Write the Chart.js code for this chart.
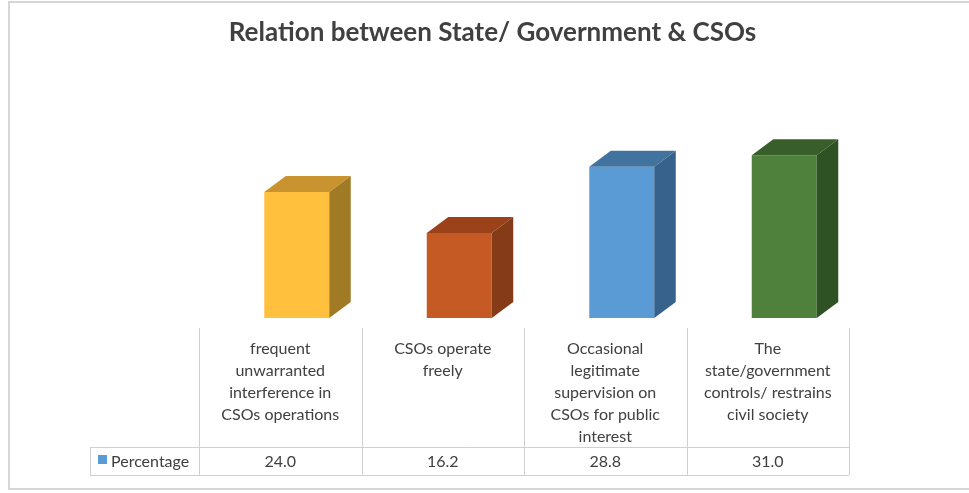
<!DOCTYPE html>
<html>
<head>
<meta charset="utf-8">
<title>Relation between State/ Government &amp; CSOs</title>
<script src="https://cdn.jsdelivr.net/npm/chart.js@4/dist/chart.umd.min.js"></script>
<style>
  html, body { margin: 0; padding: 0; background: #fff; }
  #wrap { width: 969px; height: 493px; position: relative; }
</style>
</head>
<body>
<div id="wrap"><canvas id="chart"></canvas></div>
<script>
  // --- Data ---
  const chartTitle = 'Relation between State/ Government & CSOs';
  const seriesName = 'Percentage';
  const categories = [
    ['frequent', 'unwarranted', 'interference in', 'CSOs operations'],
    ['CSOs operate', 'freely'],
    ['Occasional', 'legitimate', 'supervision on', 'CSOs for public', 'interest'],
    ['The', 'state/government', 'controls/ restrains', 'civil society'],
  ];
  const percentage = [24.0, 16.2, 28.8, 31.0];

  // front / top / side shades for each bar
  const frontColors = ['#FFC03D', '#C65A24', '#5B9BD5', '#4F813D'];
  const topColors = ['#C9942F', '#9C421B', '#42739F', '#385F2A'];
  const sideColors = ['#A17A25', '#853A18', '#36628B', '#2F5224'];

  const FONT = 'Lato, "Open Sans", sans-serif';
  const TEXT_COLOR = '#404040';
  const GRID_COLOR = '#d0d0d0';
  const DEPTH_X = 21.5;
  const DEPTH_Y = 16;
  const TABLE_SHIFT = 16.5; // floor projection offset of the table vs. the bar fronts

  // --- 3D faces: top and right side of every bar ---
  const bar3d = {
    id: 'bar3d',
    afterDatasetsDraw(chart) {
      const ctx = chart.ctx;
      const meta = chart.getDatasetMeta(0);
      meta.data.forEach((bar, i) => {
        const { x, y, base, width } = bar.getProps(['x', 'y', 'base', 'width'], true);
        const l = x - width / 2;
        const r = x + width / 2;
        ctx.save();
        ctx.fillStyle = topColors[i];
        ctx.beginPath();
        ctx.moveTo(l, y);
        ctx.lineTo(r, y);
        ctx.lineTo(r + DEPTH_X, y - DEPTH_Y);
        ctx.lineTo(l + DEPTH_X, y - DEPTH_Y);
        ctx.closePath();
        ctx.fill();
        ctx.fillStyle = sideColors[i];
        ctx.beginPath();
        ctx.moveTo(r, y);
        ctx.lineTo(r + DEPTH_X, y - DEPTH_Y);
        ctx.lineTo(r + DEPTH_X, base - DEPTH_Y);
        ctx.lineTo(r, base);
        ctx.closePath();
        ctx.fill();
        ctx.restore();
      });
    },
  };

  // --- Title, frame and data table ---
  const tableAndFrame = {
    id: 'tableAndFrame',
    afterDraw(chart) {
      const ctx = chart.ctx;
      const xs = chart.scales.x;
      const step = xs.getPixelForValue(1) - xs.getPixelForValue(0);
      const colLeft = (i) => xs.getPixelForValue(i) - step / 2 - TABLE_SHIFT;
      const n = categories.length;

      const headTop = 328, rowTop = 447, rowBottom = 475, legendLeft = 90;
      const tableRight = colLeft(n - 1) + step;

      ctx.save();

      // outer frame
      ctx.strokeStyle = '#d6d6d6';
      ctx.lineWidth = 2;
      ctx.strokeRect(9, 2, 975, 487);

      // title
      ctx.fillStyle = TEXT_COLOR;
      ctx.font = 'bold 26px ' + FONT;
      ctx.textAlign = 'center';
      ctx.textBaseline = 'middle';
      ctx.fillText(chartTitle, 492.5, 32.5);

      // grid
      ctx.strokeStyle = GRID_COLOR;
      ctx.lineWidth = 1;
      ctx.beginPath();
      for (let i = 0; i <= n; i++) {
        const gx = Math.round(i < n ? colLeft(i) : tableRight) + 0.5;
        ctx.moveTo(gx, headTop);
        ctx.lineTo(gx, rowBottom);
      }
      ctx.moveTo(legendLeft + 0.5, rowTop);
      ctx.lineTo(legendLeft + 0.5, rowBottom);
      ctx.moveTo(legendLeft, rowTop + 0.5);
      ctx.lineTo(tableRight, rowTop + 0.5);
      ctx.moveTo(legendLeft, rowBottom + 0.5);
      ctx.lineTo(tableRight, rowBottom + 0.5);
      ctx.stroke();

      // category labels
      ctx.fillStyle = TEXT_COLOR;
      ctx.font = '16px ' + FONT;
      categories.forEach((lines, i) => {
        const cx = colLeft(i) + step / 2;
        lines.forEach((line, k) => ctx.fillText(line, cx, 349 + k * 22));
      });

      // value row
      const rowMid = (rowTop + rowBottom) / 2 + 1;
      percentage.forEach((v, i) => {
        ctx.fillText(v.toFixed(1), colLeft(i) + step / 2, rowMid);
      });

      // legend key + series name
      ctx.fillStyle = frontColors[2];
      ctx.fillRect(98, 455, 9, 9);
      ctx.fillStyle = TEXT_COLOR;
      ctx.textAlign = 'left';
      ctx.fillText(seriesName, 111, rowMid);

      ctx.restore();
    },
  };

  const canvas = document.getElementById('chart');
  new Chart(canvas, {
    type: 'bar',
    data: {
      labels: categories.map((c) => c.join(' ')),
      datasets: [{
        label: seriesName,
        data: percentage,
        backgroundColor: frontColors,
        borderWidth: 0,
        categoryPercentage: 1,
        barPercentage: 0.4,
      }],
    },
    options: {
      responsive: true,
      maintainAspectRatio: false,
      animation: false,
      layout: { padding: { top: 134.25, bottom: 175, left: 215.5, right: 103.5 } },
      scales: {
        x: { display: false },
        y: { display: false, min: 0, max: 35 },
      },
      plugins: {
        legend: { display: false },
        tooltip: { enabled: false },
      },
    },
    plugins: [bar3d, tableAndFrame],
  });
</script>
</body>
</html>
